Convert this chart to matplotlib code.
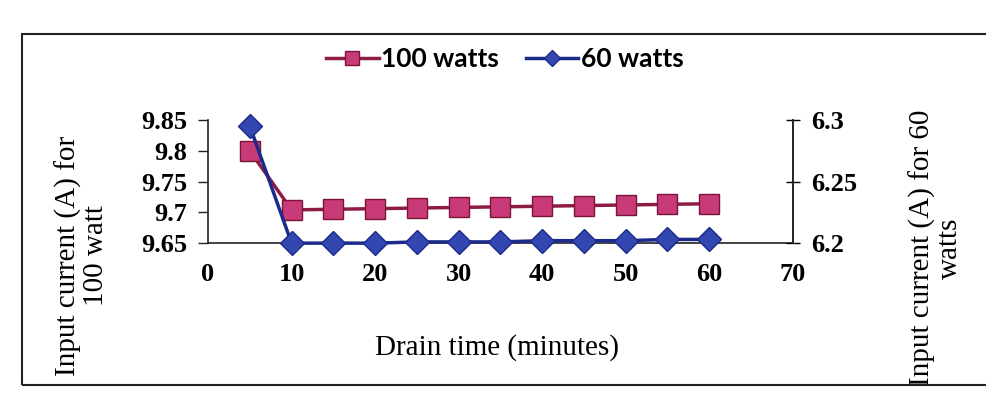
import numpy as np
import matplotlib
matplotlib.use("Agg")
import matplotlib.pyplot as plt
from matplotlib.patches import Rectangle

# drain time (minutes)
drain_time = [5, 10, 15, 20, 25, 30, 35, 40, 45, 50, 55, 60]
# input current (A)
current_100w = [9.80, 9.704, 9.705, 9.706, 9.707, 9.708, 9.709, 9.710, 9.711, 9.712, 9.713, 9.714]
current_60w = [6.295, 6.200, 6.200, 6.200, 6.201, 6.201, 6.201, 6.202, 6.202, 6.202, 6.203, 6.203]

x_ticks = [0, 10, 20, 30, 40, 50, 60, 70]
left_ticks = [9.65, 9.7, 9.75, 9.8, 9.85]
left_labels = ["9.65", "9.7", "9.75", "9.8", "9.85"]
right_ticks = [6.2, 6.25, 6.3]
right_labels = ["6.2", "6.25", "6.3"]

serif = "Liberation Serif"

fig = plt.figure(figsize=(9.86, 3.96), dpi=100)
ax = fig.add_axes([0.211, 0.386, 0.593, 0.311])
ax2 = ax.twinx()

ax.plot(drain_time, current_100w, color="#8e1b45", lw=2.5, marker="s", ms=14.5,
        mfc="#c93a78", mec="#7a1538", mew=1, label="100 watts", clip_on=False)
ax2.plot(drain_time, current_60w, color="#1c2a8c", lw=2.5, marker="D", ms=12,
         mfc="#3347b0", mec="#1c2a8c", mew=1, label="60 watts", clip_on=False)

ax.set_xlim(0, 70)
ax.set_ylim(9.65, 9.85)
ax2.set_ylim(6.2, 6.3)

ax.set_xticks(x_ticks)
ax.set_xticklabels([str(v) for v in x_ticks], fontfamily=serif, fontweight="bold", fontsize=19)
ax.set_yticks(left_ticks)
ax.set_yticklabels(left_labels, fontfamily=serif, fontweight="bold", fontsize=19)
ax2.set_yticks(right_ticks)
ax2.set_yticklabels(right_labels, fontfamily=serif, fontweight="bold", fontsize=19)

ax.tick_params(axis="x", length=0, pad=14)
ax.tick_params(axis="y", length=7, width=1, pad=8, colors="#222222", labelcolor="black")
ax2.tick_params(axis="y", direction="inout", length=10, width=1, pad=8, labelcolor="black")

for a in (ax, ax2):
    a.spines["top"].set_visible(False)
    for s in a.spines.values():
        s.set_color("#222222")
        s.set_linewidth(1.2)
ax2.spines["left"].set_visible(False)
ax2.spines["bottom"].set_visible(False)

ax.set_xlabel("Drain time (minutes)", fontfamily=serif, fontsize=21)
ax.xaxis.set_label_coords(0.494, -0.74)
ax.set_ylabel("Input current (A) for\n100 watt", fontfamily=serif, fontsize=21,
              linespacing=1.05, va="center")
ax.yaxis.set_label_coords(-0.215, -0.1)
ax2.set_ylabel("Input current (A) for 60\nwatts", fontfamily=serif, fontsize=21,
               rotation=90, linespacing=1.05, va="center")
ax2.yaxis.set_label_coords(1.245, -0.04)

h1, l1 = ax.get_legend_handles_labels()
h2, l2 = ax2.get_legend_handles_labels()
leg = fig.legend(h1 + h2, l1 + l2, loc="center", bbox_to_anchor=(0.512, 0.85), ncol=2,
                 frameon=False, handlelength=2.0, handletextpad=0.1, columnspacing=1.0,
                 prop={"family": "Lato", "size": 19, "weight": "bold"}, markerscale=0.65)

fig.add_artist(Rectangle((0.022, 0.028), 1.2, 0.885, transform=fig.transFigure,
                         fill=False, ec="#222222", lw=1.5))

fig.savefig("out.png", dpi=100)
